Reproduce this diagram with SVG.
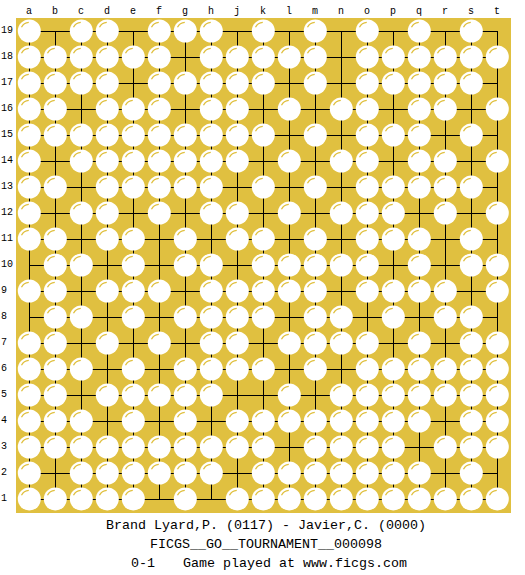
<svg xmlns="http://www.w3.org/2000/svg" xmlns:xlink="http://www.w3.org/1999/xlink" width="525" height="575" viewBox="0 0 525 575">
<style>
.lbl{font-family:"Liberation Mono",monospace;font-size:10px;fill:#000}
.col{text-anchor:middle}
.cap{font-family:"Liberation Mono",monospace;font-size:13.33px;fill:#000}
.grid{stroke:#000;stroke-width:1;fill:none;shape-rendering:crispEdges}
</style>
<defs>
<g id="w"><circle r="11.5" fill="#fff"/><path d="M-7.8,-3.8 A8.7,8.7 0 0 1 -0.5,-8.7" fill="none" stroke="#e0c040" stroke-width="1.2"/></g>
</defs>
<rect width="525" height="575" fill="#fff"/>
<rect id="board" x="16" y="18" width="495" height="495" fill="#e0c040"/>
<g id="labels-cols" class="lbl col">
<text x="29" y="14">a</text><text x="55" y="14">b</text><text x="81" y="14">c</text><text x="107" y="14">d</text><text x="133" y="14">e</text><text x="159" y="14">f</text><text x="185" y="14">g</text><text x="211" y="14">h</text><text x="237" y="14">j</text><text x="263" y="14">k</text><text x="289" y="14">l</text><text x="315" y="14">m</text><text x="341" y="14">n</text><text x="367" y="14">o</text><text x="393" y="14">p</text><text x="419" y="14">q</text><text x="445" y="14">r</text><text x="471" y="14">s</text><text x="497" y="14">t</text>
</g>
<g id="labels-rows" class="lbl">
<text x="1" y="33">19</text><text x="1" y="59">18</text><text x="1" y="85">17</text><text x="1" y="111">16</text><text x="1" y="137">15</text><text x="1" y="163">14</text><text x="1" y="189">13</text><text x="1" y="215">12</text><text x="1" y="241">11</text><text x="1" y="267">10</text><text x="1" y="293">9</text><text x="1" y="319">8</text><text x="1" y="345">7</text><text x="1" y="371">6</text><text x="1" y="397">5</text><text x="1" y="423">4</text><text x="1" y="449">3</text><text x="1" y="475">2</text><text x="1" y="501">1</text>
</g>
<g id="grid" class="grid">
<path d="M29.5,31.5V499.5M55.5,31.5V499.5M81.5,31.5V499.5M107.5,31.5V499.5M133.5,31.5V499.5M159.5,31.5V499.5M185.5,31.5V499.5M211.5,31.5V499.5M237.5,31.5V499.5M263.5,31.5V499.5M289.5,31.5V499.5M315.5,31.5V499.5M341.5,31.5V499.5M367.5,31.5V499.5M393.5,31.5V499.5M419.5,31.5V499.5M445.5,31.5V499.5M471.5,31.5V499.5M497.5,31.5V499.5"/>
<path d="M29.5,31.5H497.5M29.5,57.5H497.5M29.5,83.5H497.5M29.5,109.5H497.5M29.5,135.5H497.5M29.5,161.5H497.5M29.5,187.5H497.5M29.5,213.5H497.5M29.5,239.5H497.5M29.5,265.5H497.5M29.5,291.5H497.5M29.5,317.5H497.5M29.5,343.5H497.5M29.5,369.5H497.5M29.5,395.5H497.5M29.5,421.5H497.5M29.5,447.5H497.5M29.5,473.5H497.5M29.5,499.5H497.5"/>
</g>
<g id="stones" transform="translate(0.3,0)">
<g id="row19" transform="translate(0,31)"><use href="#w" x="29"/><use href="#w" x="81"/><use href="#w" x="107"/><use href="#w" x="159"/><use href="#w" x="185"/><use href="#w" x="211"/><use href="#w" x="263"/><use href="#w" x="315"/><use href="#w" x="367"/><use href="#w" x="419"/><use href="#w" x="471"/></g>
<g id="row18" transform="translate(0,57)"><use href="#w" x="29"/><use href="#w" x="55"/><use href="#w" x="81"/><use href="#w" x="107"/><use href="#w" x="133"/><use href="#w" x="159"/><use href="#w" x="211"/><use href="#w" x="237"/><use href="#w" x="263"/><use href="#w" x="289"/><use href="#w" x="315"/><use href="#w" x="367"/><use href="#w" x="393"/><use href="#w" x="419"/><use href="#w" x="445"/><use href="#w" x="471"/><use href="#w" x="497"/></g>
<g id="row17" transform="translate(0,83)"><use href="#w" x="29"/><use href="#w" x="55"/><use href="#w" x="81"/><use href="#w" x="107"/><use href="#w" x="159"/><use href="#w" x="185"/><use href="#w" x="211"/><use href="#w" x="237"/><use href="#w" x="263"/><use href="#w" x="315"/><use href="#w" x="367"/><use href="#w" x="393"/><use href="#w" x="419"/><use href="#w" x="445"/><use href="#w" x="471"/></g>
<g id="row16" transform="translate(0,109)"><use href="#w" x="29"/><use href="#w" x="55"/><use href="#w" x="107"/><use href="#w" x="133"/><use href="#w" x="159"/><use href="#w" x="211"/><use href="#w" x="237"/><use href="#w" x="289"/><use href="#w" x="341"/><use href="#w" x="367"/><use href="#w" x="419"/><use href="#w" x="445"/><use href="#w" x="497"/></g>
<g id="row15" transform="translate(0,135)"><use href="#w" x="29"/><use href="#w" x="55"/><use href="#w" x="81"/><use href="#w" x="107"/><use href="#w" x="133"/><use href="#w" x="159"/><use href="#w" x="185"/><use href="#w" x="211"/><use href="#w" x="237"/><use href="#w" x="263"/><use href="#w" x="315"/><use href="#w" x="367"/><use href="#w" x="393"/><use href="#w" x="419"/><use href="#w" x="471"/></g>
<g id="row14" transform="translate(0,161)"><use href="#w" x="29"/><use href="#w" x="81"/><use href="#w" x="107"/><use href="#w" x="133"/><use href="#w" x="159"/><use href="#w" x="185"/><use href="#w" x="211"/><use href="#w" x="237"/><use href="#w" x="289"/><use href="#w" x="341"/><use href="#w" x="367"/><use href="#w" x="419"/><use href="#w" x="445"/><use href="#w" x="497"/></g>
<g id="row13" transform="translate(0,187)"><use href="#w" x="29"/><use href="#w" x="55"/><use href="#w" x="107"/><use href="#w" x="133"/><use href="#w" x="159"/><use href="#w" x="185"/><use href="#w" x="211"/><use href="#w" x="263"/><use href="#w" x="315"/><use href="#w" x="367"/><use href="#w" x="393"/><use href="#w" x="419"/><use href="#w" x="445"/><use href="#w" x="471"/></g>
<g id="row12" transform="translate(0,213)"><use href="#w" x="29"/><use href="#w" x="81"/><use href="#w" x="107"/><use href="#w" x="159"/><use href="#w" x="211"/><use href="#w" x="237"/><use href="#w" x="289"/><use href="#w" x="341"/><use href="#w" x="367"/><use href="#w" x="393"/><use href="#w" x="445"/><use href="#w" x="497"/></g>
<g id="row11" transform="translate(0,239)"><use href="#w" x="29"/><use href="#w" x="55"/><use href="#w" x="107"/><use href="#w" x="133"/><use href="#w" x="185"/><use href="#w" x="237"/><use href="#w" x="263"/><use href="#w" x="315"/><use href="#w" x="367"/><use href="#w" x="393"/><use href="#w" x="419"/><use href="#w" x="471"/></g>
<g id="row10" transform="translate(0,265)"><use href="#w" x="55"/><use href="#w" x="81"/><use href="#w" x="133"/><use href="#w" x="185"/><use href="#w" x="211"/><use href="#w" x="263"/><use href="#w" x="289"/><use href="#w" x="315"/><use href="#w" x="341"/><use href="#w" x="367"/><use href="#w" x="419"/><use href="#w" x="471"/><use href="#w" x="497"/></g>
<g id="row9" transform="translate(0,291)"><use href="#w" x="29"/><use href="#w" x="55"/><use href="#w" x="107"/><use href="#w" x="133"/><use href="#w" x="159"/><use href="#w" x="211"/><use href="#w" x="237"/><use href="#w" x="263"/><use href="#w" x="289"/><use href="#w" x="315"/><use href="#w" x="367"/><use href="#w" x="393"/><use href="#w" x="419"/><use href="#w" x="445"/><use href="#w" x="497"/></g>
<g id="row8" transform="translate(0,317)"><use href="#w" x="55"/><use href="#w" x="81"/><use href="#w" x="133"/><use href="#w" x="185"/><use href="#w" x="211"/><use href="#w" x="237"/><use href="#w" x="263"/><use href="#w" x="315"/><use href="#w" x="341"/><use href="#w" x="393"/><use href="#w" x="445"/><use href="#w" x="471"/></g>
<g id="row7" transform="translate(0,343)"><use href="#w" x="29"/><use href="#w" x="55"/><use href="#w" x="107"/><use href="#w" x="159"/><use href="#w" x="211"/><use href="#w" x="237"/><use href="#w" x="289"/><use href="#w" x="315"/><use href="#w" x="341"/><use href="#w" x="367"/><use href="#w" x="419"/><use href="#w" x="471"/><use href="#w" x="497"/></g>
<g id="row6" transform="translate(0,369)"><use href="#w" x="29"/><use href="#w" x="55"/><use href="#w" x="81"/><use href="#w" x="133"/><use href="#w" x="185"/><use href="#w" x="211"/><use href="#w" x="237"/><use href="#w" x="263"/><use href="#w" x="315"/><use href="#w" x="367"/><use href="#w" x="393"/><use href="#w" x="419"/><use href="#w" x="445"/><use href="#w" x="471"/><use href="#w" x="497"/></g>
<g id="row5" transform="translate(0,395)"><use href="#w" x="29"/><use href="#w" x="55"/><use href="#w" x="107"/><use href="#w" x="133"/><use href="#w" x="159"/><use href="#w" x="185"/><use href="#w" x="211"/><use href="#w" x="289"/><use href="#w" x="341"/><use href="#w" x="367"/><use href="#w" x="393"/><use href="#w" x="419"/><use href="#w" x="445"/><use href="#w" x="471"/><use href="#w" x="497"/></g>
<g id="row4" transform="translate(0,421)"><use href="#w" x="29"/><use href="#w" x="55"/><use href="#w" x="81"/><use href="#w" x="133"/><use href="#w" x="185"/><use href="#w" x="237"/><use href="#w" x="263"/><use href="#w" x="289"/><use href="#w" x="315"/><use href="#w" x="341"/><use href="#w" x="367"/><use href="#w" x="393"/><use href="#w" x="419"/><use href="#w" x="471"/><use href="#w" x="497"/></g>
<g id="row3" transform="translate(0,447)"><use href="#w" x="29"/><use href="#w" x="55"/><use href="#w" x="81"/><use href="#w" x="107"/><use href="#w" x="133"/><use href="#w" x="159"/><use href="#w" x="185"/><use href="#w" x="211"/><use href="#w" x="237"/><use href="#w" x="263"/><use href="#w" x="315"/><use href="#w" x="341"/><use href="#w" x="367"/><use href="#w" x="393"/><use href="#w" x="445"/><use href="#w" x="471"/><use href="#w" x="497"/></g>
<g id="row2" transform="translate(0,473)"><use href="#w" x="29"/><use href="#w" x="81"/><use href="#w" x="107"/><use href="#w" x="133"/><use href="#w" x="159"/><use href="#w" x="185"/><use href="#w" x="211"/><use href="#w" x="263"/><use href="#w" x="289"/><use href="#w" x="315"/><use href="#w" x="341"/><use href="#w" x="367"/><use href="#w" x="393"/><use href="#w" x="419"/><use href="#w" x="471"/></g>
<g id="row1" transform="translate(0,499)"><use href="#w" x="29"/><use href="#w" x="55"/><use href="#w" x="81"/><use href="#w" x="107"/><use href="#w" x="133"/><use href="#w" x="185"/><use href="#w" x="237"/><use href="#w" x="263"/><use href="#w" x="289"/><use href="#w" x="315"/><use href="#w" x="341"/><use href="#w" x="367"/><use href="#w" x="393"/><use href="#w" x="419"/><use href="#w" x="445"/><use href="#w" x="471"/><use href="#w" x="497"/></g>
</g>
<g id="caption" class="cap">
<text x="106" y="529">Brand Lyard,P. (0117) - Javier,C. (0000)</text>
<text x="150" y="548">FICGS__GO__TOURNAMENT__000098</text>
<text y="567"><tspan x="131">0-1</tspan><tspan x="183">Game played at www.ficgs.com</tspan></text>
</g>
</svg>
